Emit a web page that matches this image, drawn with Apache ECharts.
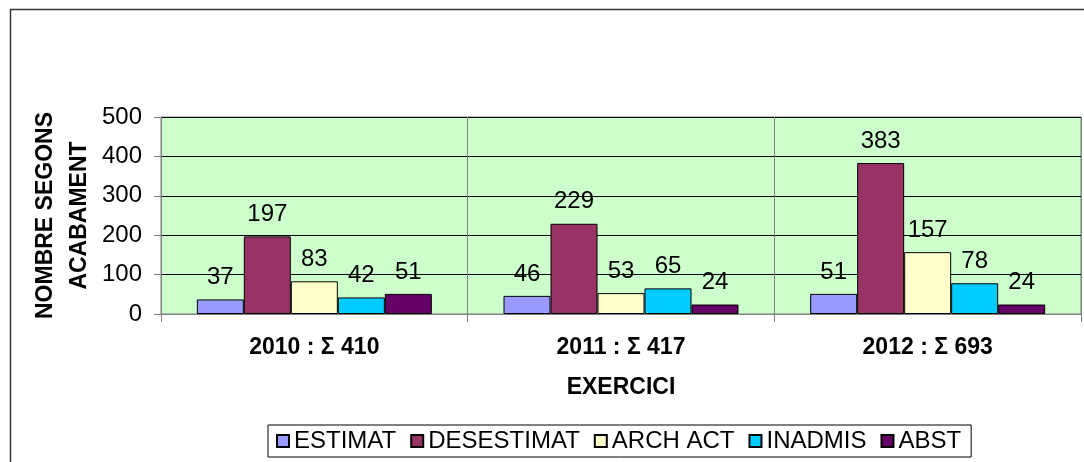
<!DOCTYPE html>
<html>
<head>
<meta charset="utf-8">
<title>Nombre segons acabament</title>
<script src="https://cdn.jsdelivr.net/npm/echarts@6/dist/echarts.min.js"></script>
<style>
    html, body { margin: 0; padding: 0; background: #fff; }
    #chart { width: 1084px; height: 462px; }
</style>
</head>
<body>
<div id="chart"></div>
<script>
// categories (any) + totals
var exercicis = ["2010 : Σ 410", "2011 : Σ 417", "2012 : Σ 693"];

var estimat = [37, 46, 51];
var desestimat = [197, 229, 383];
var archAct = [83, 53, 157];
var inadmis = [42, 65, 78];
var abst = [51, 24, 24];

var seriesNames = ["ESTIMAT", "DESESTIMAT", "ARCH ACT", "INADMIS", "ABST"];
var seriesData = [estimat, desestimat, archAct, inadmis, abst];
var colors = ["#9999FF", "#993366", "#FFFFCC", "#00CCFF", "#660066"];

var yTicks = [0, 100, 200, 300, 400, 500];

var font = "'Liberation Sans', Arial, sans-serif";

var chart = echarts.init(document.getElementById('chart'));

var series = [];
for (var i = 0; i < seriesNames.length; i++) {
    series.push({
        name: seriesNames[i],
        type: 'bar',
        data: seriesData[i],
        barWidth: 47,
        barGap: '0%',
        itemStyle: { color: colors[i], borderColor: '#000', borderWidth: 1 },
        label: {
            show: true,
            position: 'top',
            distance: 10,
            color: '#000',
            fontSize: 24,
            fontFamily: font
        }
    });
}

chart.setOption({
    animation: false,
    color: colors,
    grid: {
        left: 161, right: 3, top: 117, bottom: 148,
        show: true,
        backgroundColor: '#CCFFCC',
        borderColor: '#808080',
        borderWidth: 1
    },
    xAxis: {
        type: 'category',
        data: exercicis,
        name: 'EXERCICI',
        nameLocation: 'middle',
        nameGap: 62,
        nameTextStyle: { color: '#000', fontSize: 23, fontWeight: 'bold', fontFamily: font },
        axisLine: { show: true, lineStyle: { color: '#808080', width: 1 } },
        axisTick: { show: true, length: 8, interval: 0, lineStyle: { color: '#808080' } },
        splitLine: { show: true, interval: 0, lineStyle: { color: '#808080', width: 1 } },
        axisLabel: { color: '#000', fontSize: 23, fontWeight: 'bold', fontFamily: font, margin: 22, interval: 0 }
    },
    yAxis: {
        type: 'value',
        min: yTicks[0],
        max: yTicks[yTicks.length - 1],
        interval: 100,
        name: 'NOMBRE SEGONS\nACABAMENT',
        nameLocation: 'middle',
        nameGap: 64,
        nameMoveOverlap: false,
        nameRotate: 90,
        nameTextStyle: { color: '#000', fontSize: 23, fontWeight: 'bold', fontFamily: font, lineHeight: 34, align: 'center' },
        axisLine: { show: true, lineStyle: { color: '#808080', width: 1 } },
        axisTick: { show: true, length: 7, lineStyle: { color: '#808080' } },
        splitLine: { show: true, lineStyle: { color: '#000', width: 1 } },
        axisLabel: { color: '#000', fontSize: 24, fontFamily: font, margin: 19 }
    },
    legend: {
        data: seriesNames,
        left: 268,
        top: 425,
        padding: [4, 10, 4, 8],
        itemGap: 14,
        itemWidth: 12,
        itemHeight: 12,
        icon: 'rect',
        borderColor: '#000',
        borderWidth: 1,
        backgroundColor: '#fff',
        textStyle: { color: '#000', fontSize: 24, fontFamily: font }
    },
    graphic: [{
        type: 'rect',
        silent: true,
        shape: { x: 10.5, y: 9.5, width: 1200, height: 600 },
        style: { fill: 'none', stroke: '#333', lineWidth: 1.5 }
    }],
    series: series
});

window.addEventListener("resize", function () {
    chart.resize();
});
</script>
</body>
</html>
